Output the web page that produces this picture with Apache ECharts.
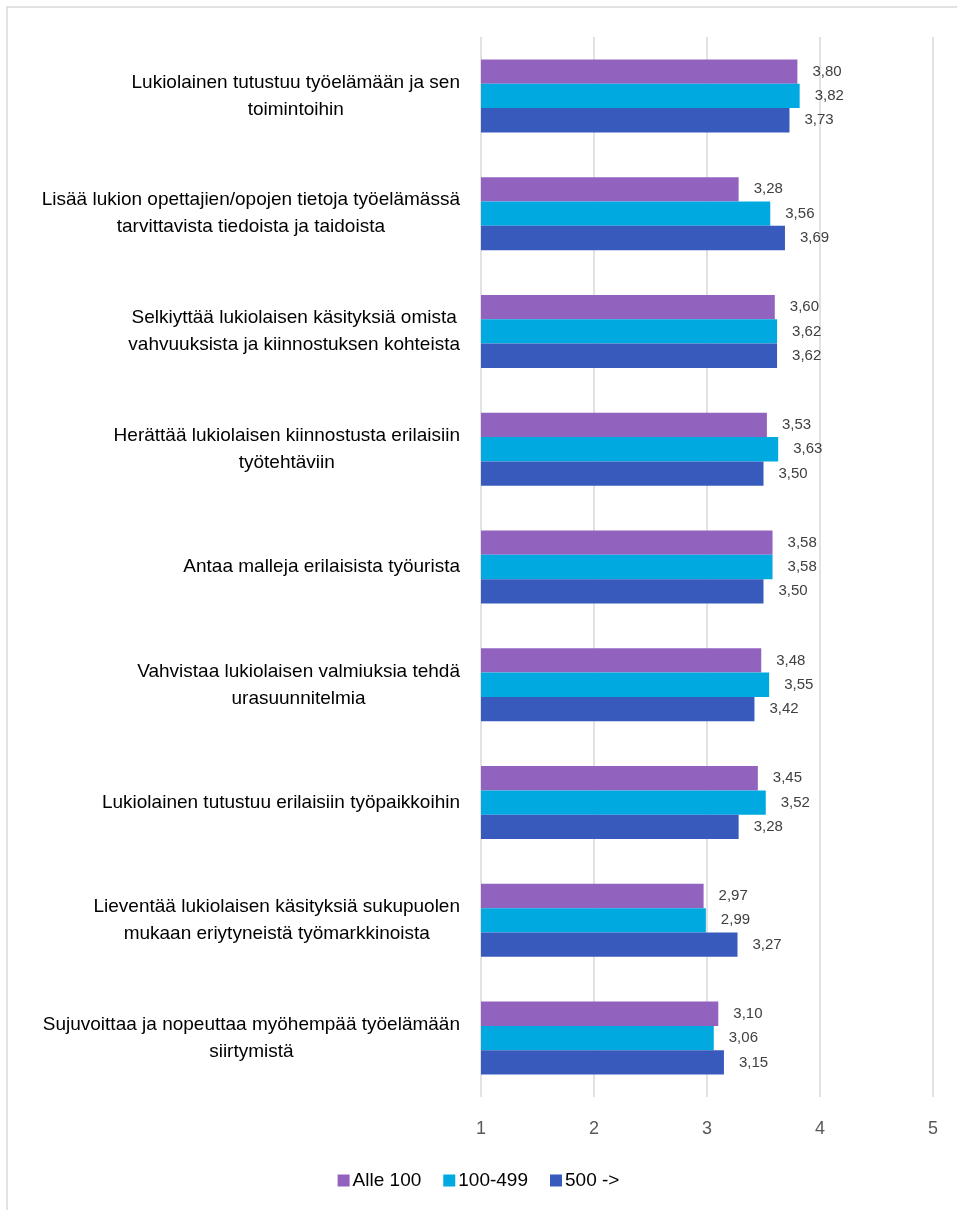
<!DOCTYPE html>
<html>
<head>
<meta charset="utf-8">
<script src="https://cdn.jsdelivr.net/npm/echarts@6/dist/echarts.min.js"></script>
<style>
  html, body { margin: 0; padding: 0; background: #fff; }
  #chart { width: 957px; height: 1210px; }
</style>
</head>
<body>
<div id="chart"></div>
<script>
// categories, top to bottom (line breaks as in the original)
var categories = [
  'Lukiolainen tutustuu työelämään ja sen\ntoimintoihin',
  'Lisää lukion opettajien/opojen tietoja työelämässä\ntarvittavista tiedoista ja taidoista',
  'Selkiyttää lukiolaisen käsityksiä omista\nvahvuuksista ja kiinnostuksen kohteista',
  'Herättää lukiolaisen kiinnostusta erilaisiin\ntyötehtäviin',
  'Antaa malleja erilaisista työurista',
  'Vahvistaa lukiolaisen valmiuksia tehdä\nurasuunnitelmia',
  'Lukiolainen tutustuu erilaisiin työpaikkoihin',
  'Lieventää lukiolaisen käsityksiä sukupuolen\nmukaan eriytyneistä työmarkkinoista',
  'Sujuvoittaa ja nopeuttaa myöhempää työelämään\nsiirtymistä'
];
var seriesNames = ['Alle 100', '100-499', '500 ->'];
var alle100 = [3.80, 3.28, 3.60, 3.53, 3.58, 3.48, 3.45, 2.97, 3.10];
var keski = [3.82, 3.56, 3.62, 3.63, 3.58, 3.55, 3.52, 2.99, 3.06];
var suuri = [3.73, 3.69, 3.62, 3.50, 3.50, 3.42, 3.28, 3.27, 3.15];
var xTicks = [1, 2, 3, 4, 5];

var colors = ['#9163bf', '#00a9e0', '#385abd'];
var fontFam = '"Liberation Sans", Arial, sans-serif';

function fmt(p) {
  return p.value.toFixed(2).replace('.', ',');
}

function makeSeries(name, data, color) {
  return {
    name: name,
    type: 'bar',
    data: data,
    barGap: '0%',
    barCategoryGap: '38%',
    itemStyle: { color: color },
    label: {
      show: true,
      position: 'right',
      distance: 15,
      formatter: fmt,
      color: '#404040',
      fontSize: 15,
      fontFamily: fontFam
    }
  };
}

var chart = echarts.init(document.getElementById('chart'));
chart.setOption({
  backgroundColor: '#fff',
  animation: false,
  textStyle: { fontFamily: fontFam },
  graphic: [{
    type: 'rect',
    shape: { x: 7, y: 7, width: 1000, height: 1300 },
    style: { fill: 'none', stroke: '#d9d9d9', lineWidth: 1.5 },
    silent: true
  }],
  legend: {
    bottom: 15,
    left: 'center',
    itemWidth: 12,
    itemHeight: 12,
    itemGap: 22,
    icon: 'rect',
    textStyle: { fontSize: 19, color: '#000', fontFamily: fontFam, padding: [0, 0, 0, -2] },
    data: seriesNames
  },
  grid: { left: 481, right: 24, top: 37, bottom: 113, containLabel: false },
  xAxis: {
    type: 'value',
    min: xTicks[0],
    max: xTicks[xTicks.length - 1],
    interval: 1,
    axisLine: { show: false },
    axisTick: { show: false },
    splitLine: { lineStyle: { color: '#d9d9d9', width: 1.5 } },
    axisLabel: { fontSize: 18, color: '#595959', margin: 23, fontFamily: fontFam }
  },
  yAxis: {
    type: 'category',
    inverse: true,
    data: categories,
    axisLine: { show: false },
    axisTick: { show: false },
    axisLabel: {
      margin: 21,
      fontSize: 19,
      color: '#000',
      lineHeight: 27,
      fontFamily: fontFam,
      formatter: function (v) {
        return v.split('\n').map(function (l) { return '{c|' + l + '}'; }).join('\n');
      },
      rich: {
        c: { align: 'center', fontSize: 19, lineHeight: 27, color: '#000', fontFamily: fontFam }
      }
    }
  },
  series: [
    makeSeries(seriesNames[0], alle100, colors[0]),
    makeSeries(seriesNames[1], keski, colors[1]),
    makeSeries(seriesNames[2], suuri, colors[2])
  ]
});
</script>
</body>
</html>
